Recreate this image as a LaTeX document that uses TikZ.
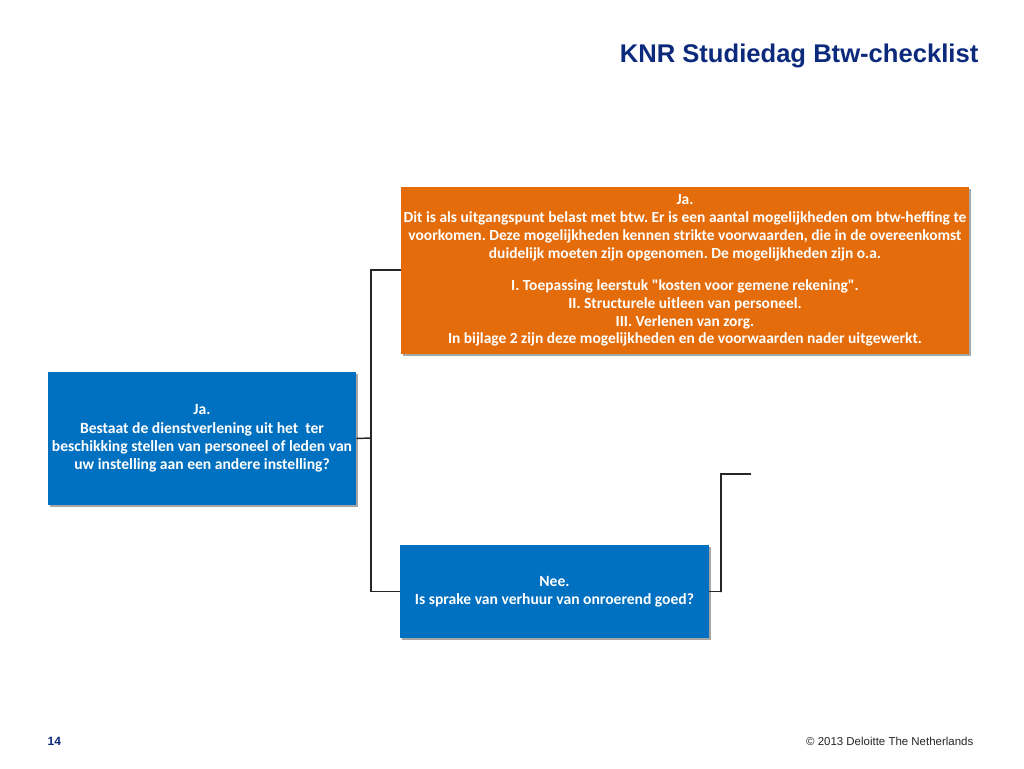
\documentclass[tikz,border=0pt]{standalone}
\usepackage{fontspec}
\setmainfont{Liberation Sans}
\newfontfamily\boxfont{Carlito}
\usetikzlibrary{shadows}
\definecolor{boxorange}{HTML}{E46C0A}
\definecolor{boxblue}{HTML}{0070C0}
\definecolor{titleblue}{HTML}{0B2A7C}
\definecolor{linegray}{HTML}{262626}
\frenchspacing
\tikzset{
  px/.style={x=0.75pt,y=-0.75pt},
  flowbox/.style={draw=none, inner sep=0pt,
    drop shadow={shadow xshift=1.2pt, shadow yshift=-1.5pt, fill=black, opacity=0.35}},
  orangebox/.style={flowbox, fill=boxorange},
  bluebox/.style={flowbox, fill=boxblue},
  boxtext/.style={inner sep=0pt, align=center, text=white},
  orangetext/.style={boxtext, font=\boxfont\bfseries\fontsize{11.6}{13.4}\selectfont},
  bluetext/.style={boxtext, font=\boxfont\bfseries\fontsize{11.7}{13.8}\selectfont},
  conn/.style={draw=linegray, line width=1.1pt}
}
\begin{document}
\begin{tikzpicture}[px]
\useasboundingbox (0,0) rectangle (1024,768);
\fill[white] (0,0) rectangle (1024,768);
% title
\node[anchor=base east, text=titleblue, font=\bfseries\fontsize{19.2}{23}\selectfont] (title) at (983,62) {KNR Studiedag Btw-checklist};
% boxes
\node[orangebox, minimum width=568*0.75pt, minimum height=167*0.75pt] (orange) at (685,270.5) {};
\node[orangetext] (orangetxt) at (orange.center)
 {Ja.\\Dit is als uitgangspunt belast met btw. Er is een aantal mogelijkheden om btw-heffing te\\voorkomen. Deze mogelijkheden kennen strikte voorwaarden, die in de overeenkomst\\duidelijk moeten zijn opgenomen. De mogelijkheden zijn o.a.\\[10.8pt]I. Toepassing leerstuk "kosten voor gemene rekening".\\II. Structurele uitleen van personeel.\\III. Verlenen van zorg.\\In bijlage 2 zijn deze mogelijkheden en de voorwaarden nader uitgewerkt.};
\node[bluebox, minimum width=308*0.75pt, minimum height=133*0.75pt] (left) at (202,438.5) {};
\node[bluetext] (lefttxt) at (left.center)
 {Ja.\\Bestaat de dienstverlening uit het\ \ ter\\beschikking stellen van personeel of leden van\\uw instelling aan een andere instelling?};
\node[bluebox, minimum width=309*0.75pt, minimum height=93*0.75pt] (nee) at (554.5,591.5) {};
\node[bluetext] (neetxt) at (nee.center)
 {Nee.\\Is sprake van verhuur van onroerend goed?};
% connectors
\coordinate (j1) at (371,438);
\coordinate (j2) at (721,592);
\coordinate (free) at (751,474);
\draw[conn] (left.east) -- (j1);
\draw[conn] (orange.west |- 0,270) -| (j1) |- (nee.west);
\draw[conn] (nee.east) -| (j2) |- (free);
% footer
\node[anchor=base west, text=titleblue, font=\bfseries\fontsize{9}{11}\selectfont] (pagenum) at (43,745) {14};
\node[anchor=base east, text=black!85, font=\fontsize{8.6}{10}\selectfont] (copy) at (978,745) {\textcopyright{} 2013 Deloitte The Netherlands};
\end{tikzpicture}
\end{document}
